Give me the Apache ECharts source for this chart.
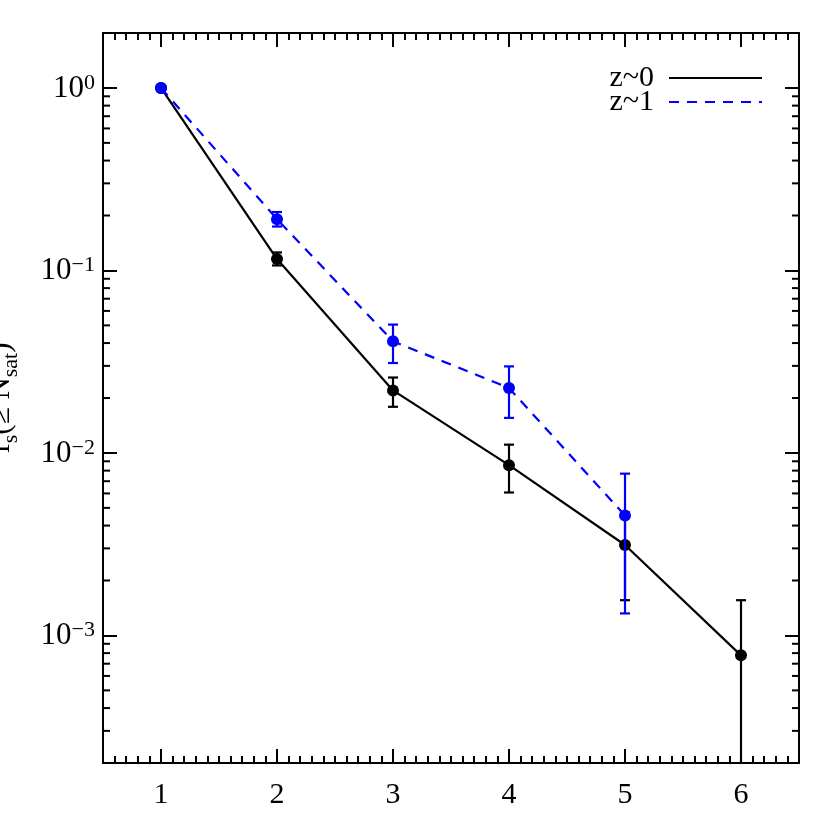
<!DOCTYPE html>
<html><head><meta charset="utf-8">
<script src="https://cdn.jsdelivr.net/npm/echarts@6/dist/echarts.min.js"></script>
<style>html,body{margin:0;padding:0;background:#fff}#c{width:830px;height:830px}</style>
</head><body><div id="c"></div>
<script>
// ---- data ----
const nSat = [1, 2, 3, 4, 5, 6];
const z0Frac = [1.0, 0.1155, 0.0220, 0.00857, 0.00313, 0.000778];
const z0Low  = [1.0, 0.1065, 0.0179, 0.00607, 0.00156, 0];
const z0High = [1.0, 0.1255, 0.0259, 0.0111, 0.0047, 0.00156];
const z1X    = [1, 2, 3, 4, 5];
const z1Frac = [1.0, 0.191, 0.0409, 0.0227, 0.00454];
const z1Low  = [0.985, 0.174, 0.0311, 0.01556, 0.00132];
const z1High = [1.015, 0.209, 0.0505, 0.0298, 0.0077];
const seriesNames = ['z~0', 'z~1'];
const xRange = [0.5, 6.5];
const yRange = [2e-4, 2];
const yMinorTicks = [];
for (let d = -4; d <= 0; d++) for (let k = 2; k <= 9; k++) {
  const v = k * Math.pow(10, d);
  if (v > yRange[0] * 1.0001 && v < yRange[1] * 0.9999) yMinorTicks.push(v);
}

const FONT = 'Liberation Serif';
const BLACK = '#000000', BLUE = '#0000ff';

function errorBars(xs, lows, highs, color, z) {
  return {
    type: 'custom', silent: true, z: z, animation: false,
    data: xs.map((x, i) => [x, lows[i], highs[i]]),
    renderItem: function (params, api) {
      const x = api.value(0), lo = api.value(1), hi = api.value(2);
      const cs = params.coordSys;
      const t = api.coord([x, hi]);
      const b = lo > 0 ? api.coord([x, lo]) : [t[0], cs.y + cs.height];
      const hw = 5;
      const st = { stroke: color, lineWidth: 2.2 };
      const ch = [
        { type: 'line', shape: { x1: t[0], y1: t[1], x2: b[0], y2: b[1] }, style: st },
        { type: 'line', shape: { x1: t[0] - hw, y1: t[1], x2: t[0] + hw, y2: t[1] }, style: st }
      ];
      if (lo > 0) ch.push({ type: 'line', shape: { x1: b[0] - hw, y1: b[1], x2: b[0] + hw, y2: b[1] }, style: st });
      return { type: 'group', children: ch };
    }
  };
}

const xAxisBase = {
  type: 'value', min: xRange[0], max: xRange[1], splitNumber: 6,
  axisLine: { show: true, onZero: false, lineStyle: { color: BLACK, width: 2 } },
  axisTick: { show: true, inside: true, length: 14, lineStyle: { color: BLACK, width: 2 } },
  minorTick: { show: true, splitNumber: 10, length: 7, lineStyle: { color: BLACK, width: 2 } },
  splitLine: { show: false }, minorSplitLine: { show: false }
};
const yAxisBase = {
  type: 'log', logBase: 10, min: yRange[0], max: yRange[1],
  axisLine: { show: true, onZero: false, lineStyle: { color: BLACK, width: 2 } },
  axisTick: { show: true, inside: true, length: 14, lineStyle: { color: BLACK, width: 2 } },
  splitLine: { show: false }
};

const option = {
  animation: false,
  backgroundColor: '#ffffff',
  grid: { left: 103, right: 31, top: 33, bottom: 67, containLabel: false, outerBoundsMode: 'none' },
  legend: {
    data: seriesNames, orient: 'vertical', right: 62, top: 58, align: 'right',
    itemWidth: 93, itemHeight: 14, itemGap: -6, selectedMode: false,
    itemStyle: { opacity: 0 },
    textStyle: { fontFamily: FONT, fontSize: 30, color: BLACK, padding: [0, 10, 0, 0] }
  },
  xAxis: [
    Object.assign({}, xAxisBase, {
      position: 'bottom',
      axisLabel: {
        show: true, margin: 17, fontFamily: FONT, fontSize: 30, color: BLACK,
        formatter: v => (Math.abs(v - Math.round(v)) < 1e-6 ? String(Math.round(v)) : '')
      }
    }),
    Object.assign({}, xAxisBase, { position: 'top', axisLabel: { show: false } })
  ],
  yAxis: [
    Object.assign({}, yAxisBase, {
      position: 'left',
      name: '{m|f}{sub|s}{m|(≥ N}{sub|sat}{m|)}',
      nameLocation: 'middle', nameRotate: 90, nameGap: 87,
      nameTextStyle: {
        fontFamily: FONT, color: BLACK,
        rich: {
          m: { fontFamily: FONT, fontSize: 31, color: BLACK, verticalAlign: 'bottom', lineHeight: 34 },
          sub: { fontFamily: FONT, fontSize: 22, color: BLACK, verticalAlign: 'bottom', lineHeight: 34, padding: [0, 0, -6, 0] }
        }
      },
      axisLabel: {
        show: true, margin: 8, fontFamily: FONT, fontSize: 31, color: BLACK,
        formatter: function (v) {
          const e = Math.round(Math.log10(v));
          if (Math.abs(v / Math.pow(10, e) - 1) > 1e-6) return '';
          return '{m|10}{sup|' + (e < 0 ? '\u2212' + (-e) : e) + '}';
        },
        rich: {
          m: { fontFamily: FONT, fontSize: 31, color: BLACK, verticalAlign: 'bottom', lineHeight: 32 },
          sup: { fontFamily: FONT, fontSize: 22, color: BLACK, verticalAlign: 'top', lineHeight: 32 }
        }
      }
    }),
    Object.assign({}, yAxisBase, { position: 'right', axisLabel: { show: false } })
  ],
  series: [
    {
      type: 'custom', silent: true, z: 1, animation: false,
      data: yMinorTicks.map(v => [nSat[0], v]),
      renderItem: function (params, api) {
        const cs = params.coordSys;
        const y = api.coord([api.value(0), api.value(1)])[1];
        const st = { stroke: BLACK, lineWidth: 2 };
        return { type: 'group', children: [
          { type: 'line', shape: { x1: cs.x, y1: y, x2: cs.x + 7, y2: y }, style: st },
          { type: 'line', shape: { x1: cs.x + cs.width - 7, y1: y, x2: cs.x + cs.width, y2: y }, style: st }
        ] };
      }
    },
    {
      name: seriesNames[0], type: 'line', z: 2,
      data: nSat.map((x, i) => [x, z0Frac[i]]),
      symbol: 'circle', symbolSize: 12, showSymbol: true,
      itemStyle: { color: BLACK }, lineStyle: { color: BLACK, width: 2.2 }
    },
    errorBars(nSat, z0Low, z0High, BLACK, 3),
    {
      name: seriesNames[1], type: 'line', z: 4,
      data: z1X.map((x, i) => [x, z1Frac[i]]),
      symbol: 'circle', symbolSize: 12, showSymbol: true,
      itemStyle: { color: BLUE }, lineStyle: { color: BLUE, width: 2.2, type: [10, 8] }
    },
    errorBars(z1X, z1Low, z1High, BLUE, 5)
  ]
};

const chart = echarts.init(document.getElementById('c'), null, { renderer: 'canvas' });
chart.setOption(option);
</script>
</body></html>
